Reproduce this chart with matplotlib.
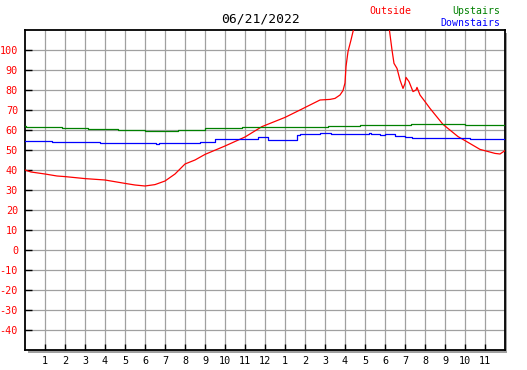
import matplotlib
matplotlib.use("Agg")
import matplotlib.pyplot as plt
from matplotlib.patches import Rectangle

# Outside temperature (hour of day, degrees)
outside_hours = [0.0, 0.3, 1.0, 1.6, 2.0, 3.0, 4.0, 5.0, 5.5, 6.0, 6.5, 7.0, 7.5,
                 8.0, 8.5, 9.0, 10.0, 11.0, 11.85, 13.0, 13.75, 14.25, 14.75,
                 15.25, 15.5, 15.75, 15.9, 16.0, 16.05, 16.15, 16.3, 16.4, 16.6,
                 17.0, 17.5, 18.0, 18.22, 18.35, 18.45, 18.6, 18.75, 18.9, 19.0,
                 19.05, 19.2, 19.4, 19.55, 19.6, 19.75, 20.0, 20.25, 20.9, 21.65,
                 22.0, 22.75, 23.5, 23.75, 24.0]
outside_temps = [40, 39, 38, 37, 36.7, 35.7, 35, 33.3, 32.5, 32, 32.7, 34.5, 38,
                 43, 45, 47.8, 52, 56.5, 61.7, 66.3, 70, 72.5, 75,
                 75.3, 75.8, 77.5, 79.7, 83.5, 91.7, 99.2, 105, 109.2, 116,
                 120, 122, 117, 110, 100, 93.3, 90.8, 85, 80.8, 83.3,
                 86.3, 84.2, 79.2, 80, 81.3, 77.5, 74.2, 70.8, 62.8, 56.7,
                 54.7, 50.3, 48.3, 48, 49.7]

# Upstairs temperature (step changes)
upstairs_hours = [0.0, 0.05, 1.85, 3.15, 4.65, 6.0, 7.65, 9.0, 10.85, 15.15, 16.75,
                  19.3, 22.0, 24.0]
upstairs_temps = [62, 61.7, 61, 60.5, 60, 59.5, 60, 60.8, 61.5, 62, 62.5,
                  63, 62.5, 62.5]

# Downstairs temperature (step changes)
downstairs_hours = [0.0, 1.35, 3.75, 6.55, 6.7, 8.75, 9.5, 10.75, 11.65, 12.15,
                    13.6, 13.75, 14.75, 15.3, 15.9, 17.2, 17.3, 17.75, 18.0,
                    18.5, 19.0, 19.35, 22.25, 24.0]
downstairs_temps = [54.5, 54, 53.5, 53, 53.5, 54, 55.3, 55.7, 56.3, 55,
                    57.5, 57.8, 58.3, 57.8, 58, 58.5, 58, 57.5, 57.8,
                    57, 56.5, 55.8, 55.3, 55.3]

hour_labels = [str(h) for h in list(range(1, 13)) + list(range(1, 12))]
y_ticks = list(range(-40, 101, 10))

W, H = 527, 370
fig = plt.figure(figsize=(W / 100, H / 100), dpi=100)
fig.patch.set_facecolor("white")

left, right, top, bottom = 25, 505, 30, 350
ax = fig.add_axes([left / W, (H - bottom) / H, (right - left) / W, (bottom - top) / H])

# drop shadow on right and bottom of the plot frame
shadow = Rectangle(((left + 2.5) / W, (H - bottom - 2.5) / H), (right - left) / W,
                   (bottom - top) / H, transform=fig.transFigure,
                   facecolor="#a0a0a0", edgecolor="none", zorder=-1)
fig.patches.append(shadow)

mono = "DejaVu Sans Mono"

ax.plot(outside_hours, outside_temps, color="#ff0000", lw=0.9, zorder=3)
ax.plot(upstairs_hours, upstairs_temps, color="#008000", lw=0.9,
        drawstyle="steps-post", zorder=3)
ax.plot(downstairs_hours, downstairs_temps, color="#0000ff", lw=0.9,
        drawstyle="steps-post", zorder=3)

ax.set_xlim(0, 24)
ax.set_ylim(-50, 110)

ax.set_xticks(range(1, 24))
ax.set_xticklabels(hour_labels, fontfamily=mono, fontsize=7.3)
ax.set_yticks(y_ticks)
ax.set_yticklabels([str(v) for v in y_ticks], fontfamily=mono, fontsize=7.3,
                   color="#ff0000")
ax.tick_params(axis="y", direction="in", length=5, width=1, pad=5, color="black")
ax.tick_params(axis="x", direction="in", length=4, width=1, pad=4, color="black")

ax.grid(True, color="#a0a0a0", lw=0.9)
ax.set_axisbelow(True)

for s in ax.spines.values():
    s.set_linewidth(1.3)
    s.set_color("black")

fig.text(261 / W, 1 - 19 / H, "06/21/2022", ha="center", va="center",
         fontfamily=mono, fontsize=9.4)
fig.text(390 / W, 1 - 11 / H, "Outside", ha="center", va="center",
         fontfamily=mono, fontsize=7.1, color="#ff0000")
fig.text(500 / W, 1 - 11 / H, "Upstairs", ha="right", va="center",
         fontfamily=mono, fontsize=7.1, color="#008000")
fig.text(500 / W, 1 - 23.5 / H, "Downstairs", ha="right", va="center",
         fontfamily=mono, fontsize=7.1, color="#0000ff")

fig.savefig("out.png", dpi=100)
